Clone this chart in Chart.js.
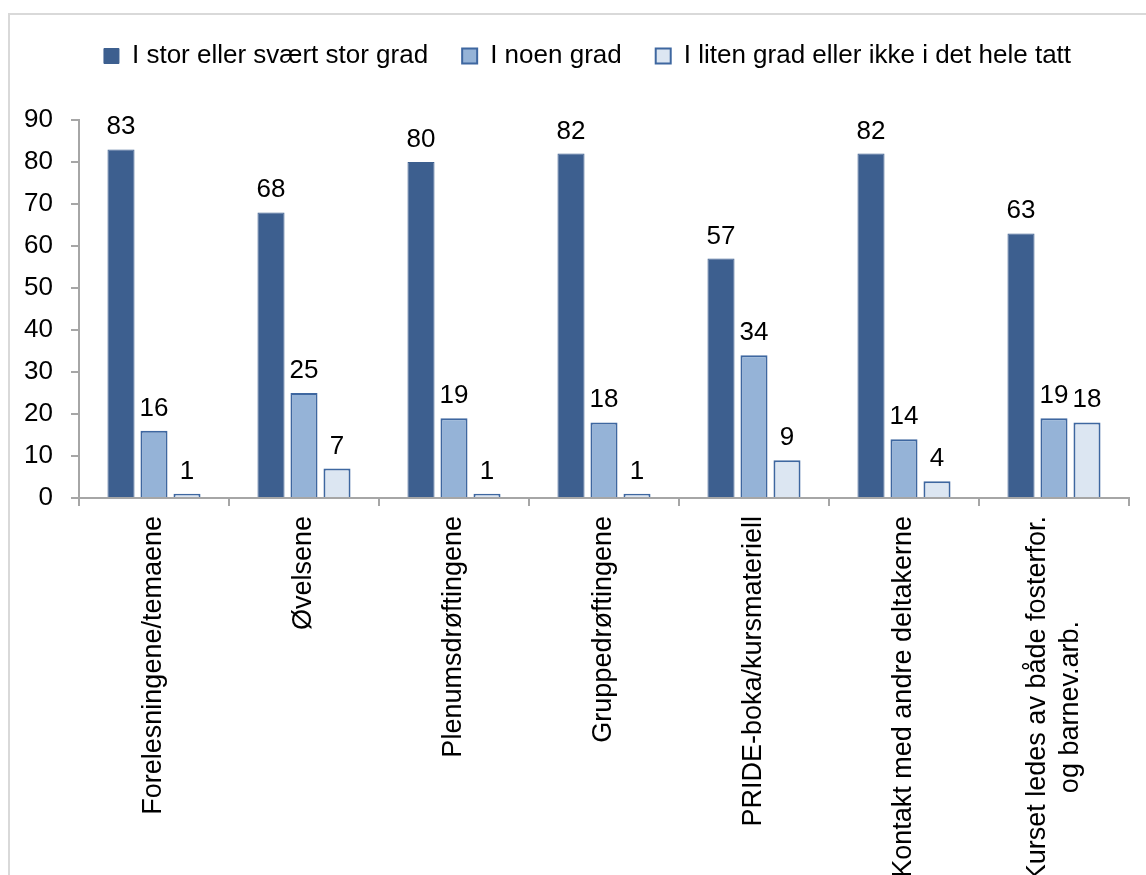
<!DOCTYPE html>
<html>
<head>
<meta charset="utf-8">
<script src="https://cdn.jsdelivr.net/npm/chart.js@4"></script>
<style>
  html, body { margin: 0; padding: 0; background: #fff; overflow: hidden; }
  #frame { position: absolute; left: 8px; top: 13px; width: 1200px; height: 900px; border: 2px solid #d9d9d9; }
  #wrap { position: absolute; left: 0; top: 0; width: 1146px; height: 875px; }
</style>
</head>
<body>
<div id="frame"></div>
<div id="wrap"><canvas id="myChart" width="1146" height="875"></canvas></div>
<script>
const categories = [
    'Forelesningene/temaene',
    'Øvelsene',
    'Plenumsdrøftingene',
    'Gruppedrøftingene',
    'PRIDE-boka/kursmateriell',
    'Kontakt med andre deltakerne',
    ['Kurset ledes av både fosterfor.', 'og barnev.arb.              ']
];
const seriesNames = [
    'I stor eller svært stor grad',
    'I noen grad',
    'I liten grad eller ikke i det hele tatt'
];
const storGrad = [83, 68, 80, 82, 57, 82, 63];
const noenGrad = [16, 25, 19, 18, 34, 14, 19];
const litenGrad = [1, 7, 1, 1, 9, 4, 18];
const yTicks = [0, 10, 20, 30, 40, 50, 60, 70, 80, 90];

const FONT = '"Liberation Sans", Arial, sans-serif';

// value labels above each bar
const valueLabels = {
    id: 'valueLabels',
    afterDatasetsDraw(chart) {
        const ctx = chart.ctx;
        ctx.save();
        ctx.font = '26px ' + FONT;
        ctx.fillStyle = '#000';
        ctx.textAlign = 'center';
        ctx.textBaseline = 'alphabetic';
        chart.data.datasets.forEach((ds, i) => {
            chart.getDatasetMeta(i).data.forEach((bar, j) => {
                ctx.fillText(ds.data[j], bar.x, bar.y - 15);
            });
        });
        ctx.restore();
    }
};

// extra room between legend and plot, legend nudged right
const legendMargin = {
    id: 'legendMargin',
    beforeInit(chart) {
        const fit = chart.legend.fit;
        chart.legend.fit = function () {
            fit.bind(chart.legend)();
            this.height += 41;
        };
    },
    afterLayout(chart) {
        chart.legend.left += 23;
        chart.legend.right += 23;
    }
};

// centre two-line rotated labels on their tick
const centerMultiline = {
    id: 'centerMultiline',
    beforeDraw(chart) {
        const scale = chart.scales.x;
        const items = scale.getLabelItems();
        items.forEach(item => {
            if (Array.isArray(item.label) && item.label.length > 1 && !item._shifted) {
                const lh = scale.options.ticks.font.size * 1.2;
                item.options.translation[0] -= lh * (item.label.length - 1) / 2;
                item._shifted = true;
            }
        });
    }
};

const ctx = document.getElementById('myChart').getContext('2d');
const myChart = new Chart(ctx, {
    type: 'bar',
    data: {
        labels: categories,
        datasets: [{
            label: seriesNames[0],
            data: storGrad,
            backgroundColor: '#3d5f8f',
            borderColor: '#3d5f8f',
            borderWidth: 1
        }, {
            label: seriesNames[1],
            data: noenGrad,
            backgroundColor: '#95b3d7',
            borderColor: '#3e67a0',
            borderWidth: 2
        }, {
            label: seriesNames[2],
            data: litenGrad,
            backgroundColor: '#dce6f2',
            borderColor: '#3e67a0',
            borderWidth: 2
        }]
    },
    options: {
        responsive: false,
        animation: false,
        categoryPercentage: 0.66,
        barPercentage: 0.82,
        layout: { padding: { top: 9, left: 0, right: 17, bottom: 0 } },
        plugins: {
            legend: {
                labels: {
                    boxWidth: 15,
                    boxHeight: 15,
                    padding: 34,
                    color: '#000',
                    font: { family: FONT, size: 26 }
                }
            },
            tooltip: { enabled: false }
        },
        scales: {
            x: {
                grid: { drawOnChartArea: false, drawTicks: true, tickLength: 8, color: '#a6a6a6', lineWidth: 2 },
                border: { display: true, color: '#a6a6a6', width: 2 },
                ticks: {
                    autoSkip: false,
                    minRotation: 90,
                    maxRotation: 90,
                    padding: 10,
                    color: '#000',
                    font: { family: FONT, size: 27 }
                },
                afterFit(scale) { scale.height = 377; }
            },
            y: {
                min: 0,
                max: 90,
                afterBuildTicks(scale) { scale.ticks = yTicks.map(v => ({ value: v })); },
                grid: { drawOnChartArea: false, drawTicks: true, tickLength: 8, color: '#a6a6a6', lineWidth: 2 },
                border: { display: true, color: '#a6a6a6', width: 2 },
                ticks: {
                    padding: 18,
                    color: '#000',
                    font: { family: FONT, size: 26 }
                },
                afterFit(scale) { scale.width = 79; }
            }
        }
    },
    plugins: [valueLabels, legendMargin, centerMultiline]
});
</script>
</body>
</html>
